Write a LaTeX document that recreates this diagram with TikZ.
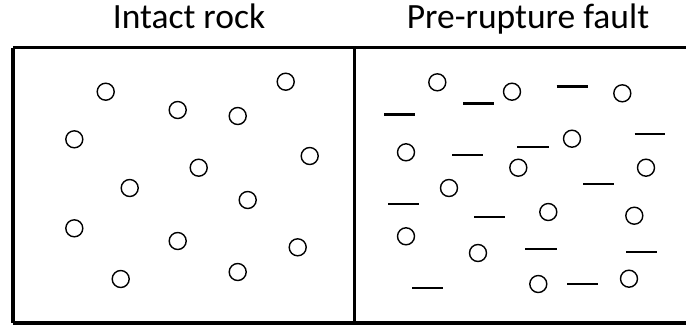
\documentclass[tikz,border=0pt]{standalone}
\usepackage{fontspec}
\setmainfont{Carlito}
\begin{document}
\begin{tikzpicture}[x=1pt,y=-1pt,
  pore/.style={draw=black,line width=1.4pt,circle,minimum size=17pt,inner sep=0pt},
  crack/.style={line width=2.4pt},
  frame/.style={line width=3.4pt},
  title/.style={font=\fontsize{35.5}{40}\selectfont,anchor=base}]
\useasboundingbox (0,0) rectangle (686,325);
% panels
\draw[frame] (13,47.7) -- (690,47.7);
\draw[frame] (13,47.7) -- (13,323);
\draw[frame] (13,323) -- (690,323);
\draw[line width=3pt] (354.3,47.7) -- (354.3,323);
% titles
\node[title] (t1) at (189,28) {Intact rock};
\node[title] (t2) at (528,28) {Pre-rupture fault};
% intact rock: isolated pores
\foreach \i/\x/\y in {1/105.7/91.7, 2/285.7/81.7, 3/177.7/110, 4/237.7/116,
  5/74.3/139.3, 6/309.7/156, 7/198.7/167.7, 8/129.7/188, 9/247.7/200,
  10/74.3/228.3, 11/177.7/241, 12/297.7/247.3, 13/237.7/272, 14/120.7/279}
  \node[pore] (a\i) at (\x,\y) {};
% pre-rupture fault: pores and microcracks
\foreach \i/\x/\y in {1/437.3/82.3, 2/512/91.7, 3/622.3/93.3, 4/406/152.3,
  5/572/138.7, 6/518.3/167.7, 7/646/167.7, 8/449/188, 9/548.3/212,
  10/634.3/215.7, 11/406/236.3, 12/478/253, 13/538.3/284, 14/629/278.7}
  \node[pore] (b\i) at (\x,\y) {};
\foreach \i/\xa/\xb/\y in {1/463.3/494.3/103.3, 2/384/415.3/114.3, 3/556.7/587.7/86.3,
  4/634.7/665.3/133.7, 5/517.3/548.7/146.7, 6/452.3/483.3/154.7, 7/583.3/614.3/184,
  8/388/419.3/203.7, 9/474.3/505.3/216.7, 10/525.3/556.7/249, 11/626.3/657.3/252,
  12/412/443.3/288, 13/567.3/598.3/284}
  {\coordinate (c\i s) at (\xa,\y); \coordinate (c\i e) at (\xb,\y);
   \draw[crack] (c\i s) -- (c\i e);}
\end{tikzpicture}
\end{document}
